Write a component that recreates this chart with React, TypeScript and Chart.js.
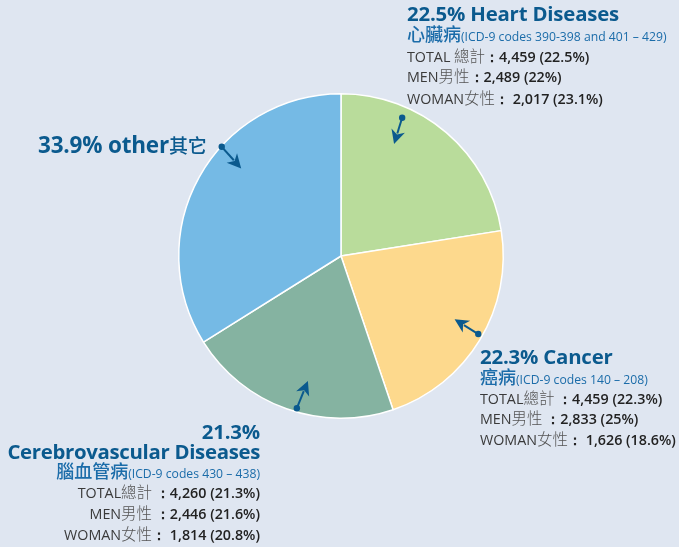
import React, { useEffect, useRef } from "react";
import { Chart, registerables } from "chart.js";

Chart.register(...registerables);

const categories = ["Heart Diseases", "Cancer", "Cerebrovascular Diseases", "other"];
const shares = [22.5, 22.3, 21.3, 33.9];
const sliceColors = ["#b9dc9b", "#fdd98d", "#85b3a1", "#75bae5"];

const BG = "#dfe6f1";
const BLUE = "#0b5a8e";
const BLUE2 = "#1b6ca9";
const GREY = "#3a3a3a";
const DARK = "#222";

// arrow geometry as fractions of pie radius (dot -> head)
const arrows = [
  { dot: [0.377, -0.852], head: [0.327, -0.69] },
  { dot: [0.846, 0.481], head: [0.7, 0.39] },
  { dot: [-0.272, 0.938], head: [-0.204, 0.77] },
  { dot: [-0.735, -0.673], head: [-0.615, -0.54] },
];

const arrowPlugin = {
  id: "arrows",
  afterDatasetsDraw(chart: any) {
    const meta = chart.getDatasetMeta(0);
    const arc = meta.data[0];
    if (!arc) return;
    const cx = arc.x, cy = arc.y, R = arc.outerRadius;
    const ctx = chart.ctx;
    ctx.save();
    ctx.fillStyle = BLUE;
    ctx.strokeStyle = BLUE;
    ctx.lineWidth = 2;
    arrows.forEach((a) => {
      const x1 = cx + a.dot[0] * R, y1 = cy + a.dot[1] * R;
      const x2 = cx + a.head[0] * R, y2 = cy + a.head[1] * R;
      const ang = Math.atan2(y2 - y1, x2 - x1);
      const hl = 14, hw = 7;
      const bx = x2 - Math.cos(ang) * hl, by = y2 - Math.sin(ang) * hl;
      ctx.beginPath();
      ctx.moveTo(x1, y1);
      ctx.lineTo(bx + Math.cos(ang) * 3, by + Math.sin(ang) * 3);
      ctx.stroke();
      ctx.beginPath();
      ctx.moveTo(x2, y2);
      ctx.lineTo(bx - Math.sin(ang) * hw, by + Math.cos(ang) * hw);
      ctx.lineTo(bx + Math.cos(ang) * 4, by + Math.sin(ang) * 4);
      ctx.lineTo(bx + Math.sin(ang) * hw, by - Math.cos(ang) * hw);
      ctx.closePath();
      ctx.fill();
      ctx.beginPath();
      ctx.arc(x1, y1, 3.2, 0, Math.PI * 2);
      ctx.fill();
    });
    ctx.restore();
  },
};

const font = "'Open Sans', 'Noto Sans', sans-serif";
const cjk = "'Noto Sans CJK TC', 'Noto Sans CJK SC', sans-serif";

const titleStyle: React.CSSProperties = {
  fontFamily: font,
  fontWeight: 700,
  fontSize: 20.4,
  color: BLUE,
  lineHeight: "21px",
  height: 21,
  whiteSpace: "nowrap",
  letterSpacing: "-0.2px",
};
const subStyle: React.CSSProperties = {
  fontFamily: font,
  color: BLUE2,
  fontSize: 12.2,
  lineHeight: "19px",
  height: 19,
  whiteSpace: "nowrap",
};
const lineStyle: React.CSSProperties = {
  fontFamily: font,
  color: GREY,
  fontSize: 14.3,
  whiteSpace: "nowrap",
};

function Sub({ zh, code }: { zh: string; code: string }) {
  return (
    <div style={subStyle}>
      <span style={{ fontFamily: cjk, fontSize: 18, fontWeight: 500 }}>{zh}</span>
      <span>{code}</span>
    </div>
  );
}

function Row({ label, zh, value, lh }: { label: string; zh: string; value: string; lh: number }) {
  return (
    <div style={{ ...lineStyle, lineHeight: lh + "px", height: lh }}>
      <span>{label}</span>
      <span style={{ fontFamily: cjk, color: "#555", fontWeight: 300, fontSize: 15.5 }}>{zh}</span>
      <span style={{ color: DARK, fontWeight: 600 }}>{value}</span>
    </div>
  );
}

export default function App() {
  const ref = useRef<HTMLCanvasElement | null>(null);
  useEffect(() => {
    if (!ref.current) return;
    const chart = new Chart(ref.current, {
      type: "pie",
      data: {
        labels: categories,
        datasets: [
          {
            data: shares,
            backgroundColor: sliceColors,
            borderColor: "#ffffff",
            borderWidth: 1.5,
          },
        ],
      },
      options: {
        responsive: false,
        animation: false,
        layout: { padding: { top: 93, bottom: 128, left: 3, right: 0 } },
        plugins: { legend: { display: false }, tooltip: { enabled: false } },
      },
      plugins: [arrowPlugin],
    });
    return () => chart.destroy();
  }, []);

  return (
    <div style={{ position: "absolute", left: 0, top: 0, width: 679, height: 547, background: BG, overflow: "hidden" }}>
      <canvas ref={ref} width={679} height={547} style={{ position: "absolute", left: 0, top: 0 }} />
      {/* Heart */}
      <div style={{ position: "absolute", left: 407, top: 3 }}>
        <div style={titleStyle}>22.5% Heart Diseases</div>
        <Sub zh="心臟病" code="(ICD-9 codes 390-398 and 401 – 429)" />
        <div style={{ height: 2 }} />
        <Row lh={20} label="TOTAL " zh="總計" value="：4,459 (22.5%)" />
        <Row lh={21} label="MEN" zh="男性" value="：2,489 (22%)" />
        <Row lh={23} label="WOMAN" zh="女性" value="： 2,017 (23.1%)" />
      </div>
      {/* Cancer */}
      <div style={{ position: "absolute", left: 480, top: 346 }}>
        <div style={titleStyle}>22.3% Cancer</div>
        <Sub zh="癌病" code="(ICD-9 codes 140 – 208)" />
        <div style={{ height: 1 }} />
        <Row lh={20} label="TOTAL" zh="總計" value=" ：4,459 (22.3%)" />
        <Row lh={21} label="MEN" zh="男性" value=" ：2,833 (25%)" />
        <Row lh={21} label="WOMAN" zh="女性" value="： 1,626 (18.6%)" />
      </div>
      {/* Cerebrovascular */}
      <div style={{ position: "absolute", right: 679 - 260, top: 421, textAlign: "right" }}>
        <div style={{ ...titleStyle, lineHeight: "20px", height: 20 }}>21.3%</div>
        <div style={{ ...titleStyle, lineHeight: "20px", height: 20, letterSpacing: "-0.32px" }}>Cerebrovascular Diseases</div>
        <Sub zh="腦血管病" code="(ICD-9 codes 430 – 438)" />
        <div style={{ height: 1 }} />
        <Row lh={21} label="TOTAL" zh="總計" value=" ：4,260 (21.3%)" />
        <Row lh={21} label="MEN" zh="男性" value=" ：2,446 (21.6%)" />
        <Row lh={21} label="WOMAN" zh="女性" value="： 1,814 (20.8%)" />
      </div>
      {/* Other */}
      <div style={{ position: "absolute", left: 38, top: 132 }}>
        <div style={{ ...titleStyle, fontSize: 22.5, lineHeight: "26px", height: 26 }}>
          33.9% other
          <span style={{ fontFamily: cjk, fontWeight: 500, fontSize: 19 }}>其它</span>
        </div>
      </div>
    </div>
  );
}
